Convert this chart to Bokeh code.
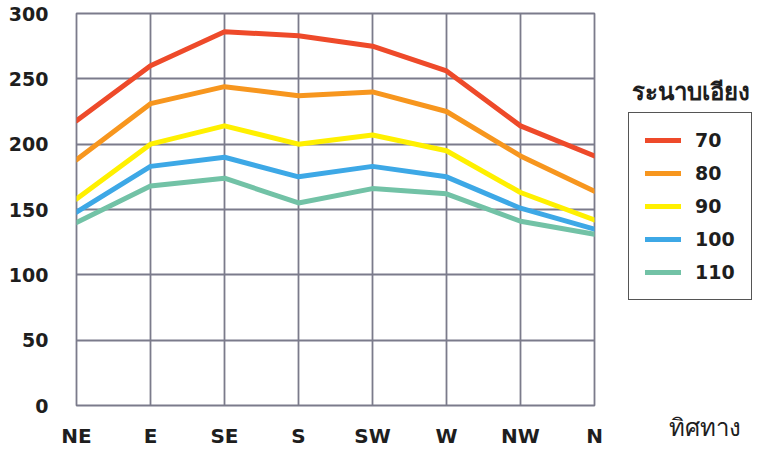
from bokeh.plotting import figure
from bokeh.layouts import row
from bokeh.models import (Range1d, FixedTicker, Legend, LegendItem, Label, Title)
from bokeh.embed import file_html
from bokeh.resources import INLINE

directions = ["NE", "E", "SE", "S", "SW", "W", "NW", "N"]
y_ticks = [0, 50, 100, 150, 200, 250, 300]
series_names = ["70", "80", "90", "100", "110"]
s70 = [218, 260, 286, 283, 275, 256, 214, 191]
s80 = [188, 231, 244, 237, 240, 225, 191, 164]
s90 = [158, 200, 214, 200, 207, 195, 163, 142]
s100 = [148, 183, 190, 175, 183, 175, 151, 135]
s110 = [140, 168, 174, 155, 166, 162, 141, 131]
series = [s70, s80, s90, s100, s110]
colors = ["#ee4a2a", "#f7961e", "#fff000", "#3da8e6", "#72c2a6"]
legend_title = "ระนาบเอียง"
x_title = "ทิศทาง"

xs = list(range(len(directions)))
H = 450
grid_color = "#7b7b8b"
text_color = "#1e1e1e"

p = figure(width=606, height=H, output_backend="svg", toolbar_location=None,
           x_range=Range1d(0, len(directions) - 1), y_range=Range1d(0, 300),
           min_border_left=76, min_border_top=13, min_border_bottom=42, min_border_right=12)
p.background_fill_color = "white"
p.border_fill_color = "white"
p.outline_line_color = grid_color
p.outline_line_width = 1.8

p.xaxis.ticker = FixedTicker(ticks=xs)
p.xaxis.major_label_overrides = {i: d for i, d in enumerate(directions)}
p.yaxis.ticker = FixedTicker(ticks=y_ticks)
for ax in (p.xaxis, p.yaxis):
    ax.axis_line_color = None
    ax.major_tick_line_color = None
    ax.minor_tick_line_color = None
    ax.major_tick_out = 0
    ax.major_tick_in = 0
    ax.minor_tick_out = 0
    ax.minor_tick_in = 0
    ax.major_label_text_font = "DejaVu Sans"
    ax.major_label_text_font_style = "bold"
    ax.major_label_text_font_size = "19px"
    ax.major_label_text_color = text_color
p.xaxis.major_label_text_font_size = "20px"
p.yaxis.major_label_standoff = 28
p.xaxis.major_label_standoff = 18
p.xgrid.grid_line_color = grid_color
p.ygrid.grid_line_color = grid_color
p.xgrid.grid_line_width = 1.8
p.ygrid.grid_line_width = 1.8

for name, vals, c in zip(series_names, series, colors):
    p.line(xs, vals, line_color=c, line_width=5, line_join="round", line_cap="round")

# side panel: legend, legend title and x title
p2 = figure(width=148, height=H, output_backend="svg", toolbar_location=None,
            x_axis_type=None, y_axis_type=None,
            x_range=Range1d(100, 101), y_range=Range1d(1000, 1001),
            min_border_left=0, min_border_right=0, min_border_top=0, min_border_bottom=0)
p2.outline_line_color = None
p2.border_fill_color = "white"
p2.xgrid.visible = False
p2.ygrid.visible = False

items = []
for name, vals, c in zip(series_names, series, colors):
    r = p2.line(xs, vals, line_color=c, line_width=5, line_cap="round")
    items.append(LegendItem(label=name, renderers=[r]))

legend = Legend(items=items, location=(22, 105))
legend.border_line_color = "#555555"
legend.border_line_alpha = 1.0
legend.border_line_width = 1.8
legend.background_fill_alpha = 1.0
legend.padding = 16
legend.spacing = 11
legend.glyph_width = 36
legend.glyph_height = 20
legend.label_height = 20
legend.label_standoff = 14
legend.label_text_font = "DejaVu Sans"
legend.label_text_font_style = "bold"
legend.label_text_font_size = "19px"
legend.label_text_color = text_color
legend.margin = 0
p2.add_layout(legend, "center")

p2.add_layout(Label(x=84, y=314, x_units="screen", y_units="screen", text=legend_title,
                    text_font_size="24px", text_font_style="bold", text_align="center",
                    text_baseline="middle", text_color=text_color))
p2.add_layout(Title(text=x_title, align="left", offset=62, standoff=13,
                    text_font_size="24px", text_font_style="normal",
                    text_color=text_color), "below")

layout = row(p, p2, spacing=0)
open("out.html", "w").write(file_html(layout, INLINE))
